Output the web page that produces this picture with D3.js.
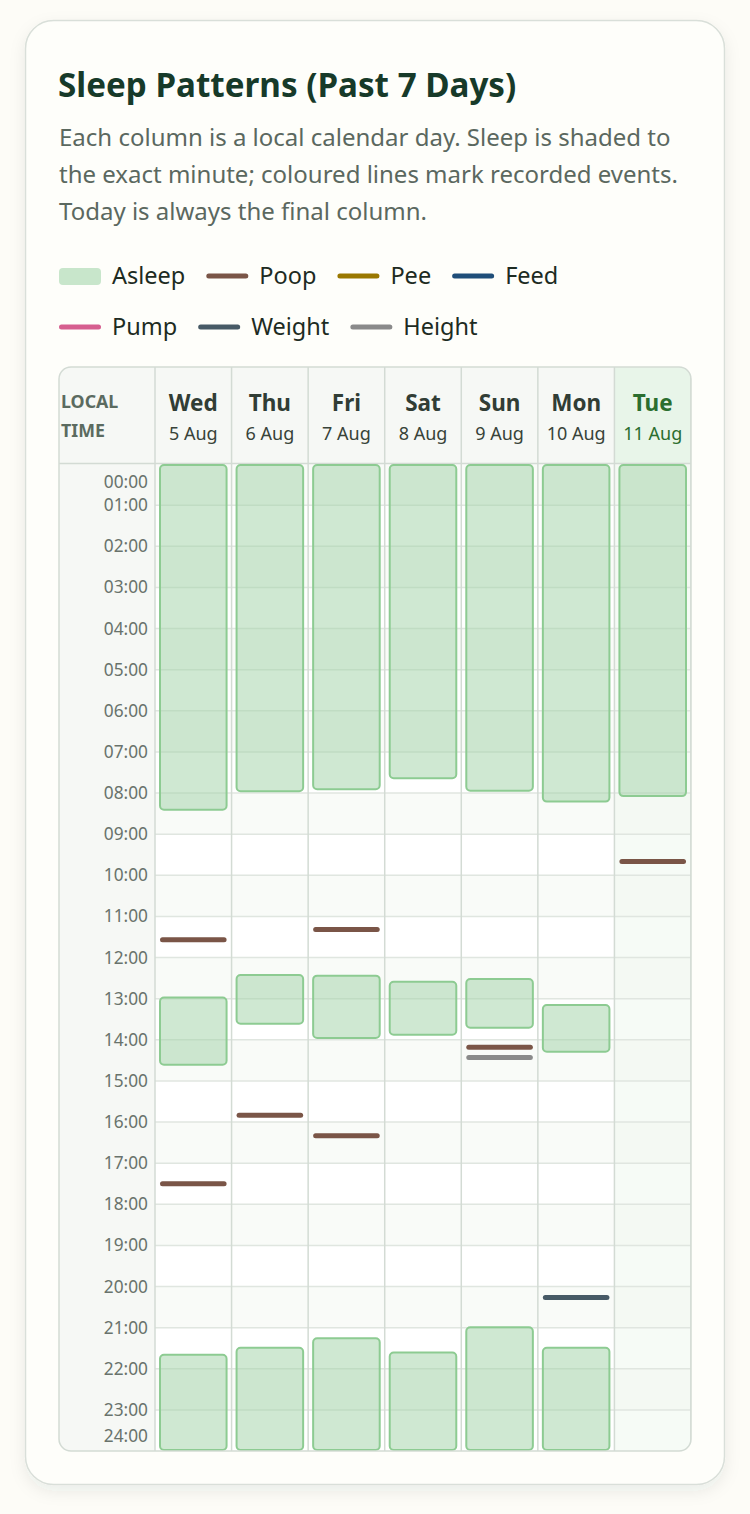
<!DOCTYPE html>
<html>
<head>
<meta charset="utf-8">
<script src="https://cdn.jsdelivr.net/npm/d3@7"></script>
<style>
  html, body { margin: 0; padding: 0; background: #fdfcf7; }
  svg { display: block; font-family: "Noto Sans", "Open Sans", sans-serif; }
</style>
</head>
<body>
<div id="chart"></div>
<script>
// days shown, oldest first; today is the last one
var days = ['Wed', 'Thu', 'Fri', 'Sat', 'Sun', 'Mon', 'Tue']
var dates = ['5 Aug', '6 Aug', '7 Aug', '8 Aug', '9 Aug', '10 Aug', '11 Aug']
var todayIndex = 6

// sleep sessions: [day index, start, end] (local time)
var sleepSessions = [
  [0, '00:00', '08:26'], [0, '12:57', '14:38'], [0, '21:38', '24:00'],
  [1, '00:00', '07:59'], [1, '12:24', '13:38'], [1, '21:28', '24:00'],
  [2, '00:00', '07:56'], [2, '12:25', '13:59'], [2, '21:14', '24:00'],
  [3, '00:00', '07:40'], [3, '12:34', '13:54'], [3, '21:35', '24:00'],
  [4, '00:00', '07:58'], [4, '12:30', '13:44'], [4, '20:58', '24:00'],
  [5, '00:00', '08:14'], [5, '13:08', '14:19'], [5, '21:28', '24:00'],
  [6, '00:00', '08:06']
]

// recorded events: [day index, type, time]
var events = [
  [0, 'Poop', '11:34'], [0, 'Poop', '17:30'],
  [1, 'Poop', '15:50'],
  [2, 'Poop', '11:19'], [2, 'Poop', '16:20'],
  [4, 'Poop', '14:11'], [4, 'Height', '14:26'],
  [5, 'Weight', '20:16'],
  [6, 'Poop', '09:40']
]

var legendItems = ['Asleep', 'Poop', 'Pee', 'Feed', 'Pump', 'Weight', 'Height']
var eventColors = ['#7a5547', '#9a7800', '#1f4e79', '#d65f8f', '#475a66', '#8a8a8a']
var hourTicks = d3.range(0, 25)

var subtitleLines = [
  'Each column is a local calendar day. Sleep is shaded to',
  'the exact minute; coloured lines mark recorded events.',
  'Today is always the final column.'
]

var toHours = function(s) {
  var p = s.split(':')
  return +p[0] + (+p[1]) / 60
}

var width = 750
var height = 1514
var tableLeft = 59
var tableRight = 691
var tableTop = 367
var headBottom = 464
var tableBottom = 1451
var timeColRight = 155

var color = d3.scaleOrdinal()
  .domain(legendItems.slice(1))
  .range(eventColors)

var x = d3.scaleBand()
  .domain(d3.range(days.length))
  .range([timeColRight, tableRight])
var y = d3.scaleLinear()
  .domain([0, 24])
  .range([headBottom, tableBottom])

var svg = d3.select('#chart').append('svg')
  .attr('width', width)
  .attr('height', height)

var defs = svg.append('defs')
var shadow = defs.append('filter').attr('id', 'shadow')
  .attr('x', '-10%').attr('y', '-10%').attr('width', '120%').attr('height', '120%')
shadow.append('feDropShadow')
  .attr('dx', 0).attr('dy', 6).attr('stdDeviation', 8)
  .attr('flood-color', '#2a3a2e').attr('flood-opacity', 0.08)
defs.append('clipPath').attr('id', 'tableClip')
  .append('rect')
    .attr('x', tableLeft).attr('y', tableTop)
    .attr('width', tableRight - tableLeft).attr('height', tableBottom - tableTop)
    .attr('rx', 12)

// card
svg.append('rect')
  .attr('x', 25.5).attr('y', 20.5)
  .attr('width', 699).attr('height', 1464)
  .attr('rx', 28)
  .attr('fill', '#fefefa')
  .attr('stroke', '#d9dfd9')
  .attr('stroke-width', 1.5)
  .attr('filter', 'url(#shadow)')

svg.append('text')
  .attr('x', 58).attr('y', 97)
  .attr('font-size', 33.2).attr('font-weight', 700)
  .attr('fill', '#173a29')
  .text('Sleep Patterns (Past 7 Days)')

svg.append('g').selectAll('text')
  .data(subtitleLines)
  .enter().append('text')
    .attr('x', 59)
    .attr('y', function(d, i) { return 146 + i * 37 })
    .attr('font-size', 24)
    .attr('fill', '#5b685f')
    .text(function(d) { return d })

// legend, laid out like a wrapping flex row
var legend = svg.append('g').attr('class', 'legend')
var lx = 59
var ly = 276
legendItems.forEach(function(name) {
  var item = legend.append('g')
  var label = item.append('text')
    .attr('x', 53).attr('y', 8)
    .attr('font-size', 23.5)
    .attr('fill', '#1d2b22')
    .text(name)
  var w = 53 + label.node().getComputedTextLength()
  if (lx + w > 691) {
    lx = 59
    ly += 51
  }
  if (name === 'Asleep') {
    item.append('rect')
      .attr('x', 0).attr('y', -8)
      .attr('width', 42).attr('height', 17)
      .attr('rx', 4)
      .attr('fill', '#c8e6cb')
  } else {
    item.append('line')
      .attr('x1', 2.5).attr('x2', 39.5)
      .attr('stroke', color(name))
      .attr('stroke-width', 5)
      .attr('stroke-linecap', 'round')
  }
  item.attr('transform', 'translate(' + lx + ',' + ly + ')')
  lx += w + 21
})

// table
var table = svg.append('g').attr('clip-path', 'url(#tableClip)')

table.append('rect')
  .attr('x', tableLeft).attr('y', tableTop)
  .attr('width', tableRight - tableLeft).attr('height', tableBottom - tableTop)
  .attr('fill', '#ffffff')

// alternate hour bands
table.append('g').selectAll('rect')
  .data(d3.range(0, 24, 2))
  .enter().append('rect')
    .attr('x', timeColRight).attr('y', function(d) { return y(d) })
    .attr('width', tableRight - timeColRight)
    .attr('height', function(d) { return y(d + 1) - y(d) })
    .attr('fill', '#f9fbf8')

// today column tint
table.append('rect')
  .attr('x', x(todayIndex)).attr('y', headBottom)
  .attr('width', x.bandwidth()).attr('height', tableBottom - headBottom)
  .attr('fill', '#f0f9f0').attr('opacity', 0.6)

// header band and time column
table.append('rect')
  .attr('x', tableLeft).attr('y', tableTop)
  .attr('width', tableRight - tableLeft).attr('height', headBottom - tableTop)
  .attr('fill', '#f6f8f5')
table.append('rect')
  .attr('x', x(todayIndex)).attr('y', tableTop)
  .attr('width', x.bandwidth()).attr('height', headBottom - tableTop)
  .attr('fill', '#e8f5e9')
table.append('rect')
  .attr('x', tableLeft).attr('y', headBottom)
  .attr('width', timeColRight - tableLeft).attr('height', tableBottom - headBottom)
  .attr('fill', '#f6f8f5')

// hour grid lines
table.append('g').selectAll('line')
  .data(hourTicks.slice(1, 24))
  .enter().append('line')
    .attr('x1', timeColRight).attr('x2', tableRight)
    .attr('y1', function(d) { return y(d) })
    .attr('y2', function(d) { return y(d) })
    .attr('stroke', '#e0e6e0')
    .attr('stroke-width', 1.5)

// column lines
table.append('g').selectAll('line')
  .data(d3.range(days.length + 1))
  .enter().append('line')
    .attr('x1', function(d) { return d < days.length ? x(d) : tableRight })
    .attr('x2', function(d) { return d < days.length ? x(d) : tableRight })
    .attr('y1', tableTop).attr('y2', tableBottom)
    .attr('stroke', '#d3dbd4')
    .attr('stroke-width', 1.5)

table.append('line')
  .attr('x1', tableLeft).attr('x2', tableRight)
  .attr('y1', headBottom - 0.5).attr('y2', headBottom - 0.5)
  .attr('stroke', '#d3dbd4')
  .attr('stroke-width', 1.5)

// header labels
var head = table.append('g').selectAll('g')
  .data(days)
  .enter().append('g')
    .attr('transform', function(d, i) { return 'translate(' + (x(i) + x.bandwidth() / 2) + ',0)' })
head.append('text')
  .attr('y', 411)
  .attr('text-anchor', 'middle')
  .attr('font-size', 22.5).attr('font-weight', 700)
  .attr('fill', function(d, i) { return i === todayIndex ? '#2b6e2f' : '#313d35' })
  .text(function(d) { return d })
head.append('text')
  .attr('y', 440)
  .attr('text-anchor', 'middle')
  .attr('font-size', 18)
  .attr('fill', function(d, i) { return i === todayIndex ? '#2b6e2f' : '#384339' })
  .text(function(d, i) { return dates[i] })

table.append('g').selectAll('text')
  .data(['LOCAL', 'TIME'])
  .enter().append('text')
    .attr('x', 61)
    .attr('y', function(d, i) { return 408 + i * 29 })
    .attr('font-size', 17.8).attr('font-weight', 700)
    .attr('fill', '#5b6b60')
    .text(function(d) { return d })

// sleep bars
table.append('g').selectAll('rect')
  .data(sleepSessions)
  .enter().append('rect')
    .attr('x', function(d) { return x(d[0]) + 5 })
    .attr('y', function(d) { return y(toHours(d[1])) + 1 })
    .attr('width', x.bandwidth() - 10)
    .attr('height', function(d) { return y(toHours(d[2])) - y(toHours(d[1])) - 2 })
    .attr('rx', 4)
    .attr('fill', 'rgba(160, 210, 165, 0.5)')
    .attr('stroke', '#8dcb92')
    .attr('stroke-width', 2)

// event markers
table.append('g').selectAll('line')
  .data(events)
  .enter().append('line')
    .attr('x1', function(d) { return x(d[0]) + 7.5 })
    .attr('x2', function(d) { return x(d[0]) + x.bandwidth() - 7.5 })
    .attr('y1', function(d) { return y(toHours(d[2])) })
    .attr('y2', function(d) { return y(toHours(d[2])) })
    .attr('stroke', function(d) { return color(d[1]) })
    .attr('stroke-width', 5)
    .attr('stroke-linecap', 'round')

// hour labels, first and last kept inside the table
table.append('g').selectAll('text')
  .data(hourTicks)
  .enter().append('text')
    .attr('x', 148)
    .attr('y', function(d) {
      if (d === 0) return y(d) + 18
      if (d === 24) return y(d) - 15
      return y(d)
    })
    .attr('dy', '0.35em')
    .attr('text-anchor', 'end')
    .attr('font-size', 17.3)
    .attr('fill', '#69736c')
    .text(function(d) { return (d < 10 ? '0' : '') + d + ':00' })

// table border
svg.append('rect')
  .attr('x', tableLeft).attr('y', tableTop)
  .attr('width', tableRight - tableLeft).attr('height', tableBottom - tableTop)
  .attr('rx', 12)
  .attr('fill', 'none')
  .attr('stroke', '#d3dbd4')
  .attr('stroke-width', 1.5)
</script>
</body>
</html>
